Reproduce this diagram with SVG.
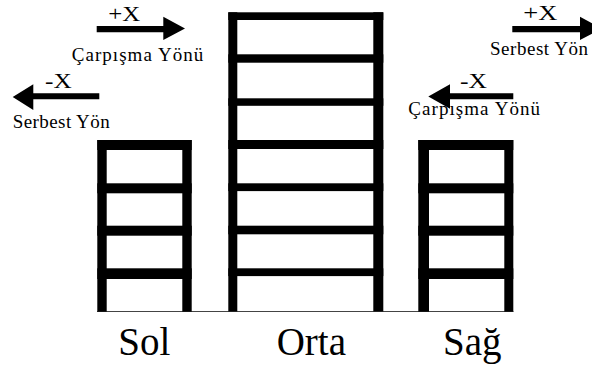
<svg xmlns="http://www.w3.org/2000/svg" width="592" height="371" viewBox="0 0 592 371">
  <style>
    .member { fill: #000; }
    .ground { stroke: #444; stroke-width: 1; fill: none; }
    .arrow { fill: #000; }
    .lbl { font-family: "Liberation Serif", "Times New Roman", serif; fill: #000; }
    .axis { font-size: 21px; }
    .dir { font-size: 19px; }
    .name { font-size: 39px; }
  </style>
  <rect width="592" height="371" fill="#fff"/>

  <!-- ground line -->
  <line class="ground" x1="97" y1="311.5" x2="513.5" y2="311.5"/>

  <!-- left frame: 4 storeys -->
  <g id="sol">
    <rect class="member" x="97.3" y="140" width="9.4" height="171.7"/>
    <rect class="member" x="182.3" y="140" width="9.4" height="171.7"/>
    <rect class="member" x="97.3" y="140" width="94.4" height="10"/>
    <rect class="member" x="97.3" y="183.3" width="94.4" height="10"/>
    <rect class="member" x="97.3" y="225.7" width="94.4" height="10"/>
    <rect class="member" x="97.3" y="268.3" width="94.4" height="10.7"/>
    <text class="lbl name" x="118.3" y="355">Sol</text>
  </g>

  <!-- middle frame: 7 storeys -->
  <g id="orta">
    <rect class="member" x="228.3" y="12.3" width="9" height="299.2"/>
    <rect class="member" x="373.3" y="12.3" width="10" height="299.2"/>
    <rect class="member" x="228.3" y="12.3" width="155" height="7.7"/>
    <rect class="member" x="228.3" y="54.3" width="155" height="8.4"/>
    <rect class="member" x="228.3" y="98.3" width="155" height="7.5"/>
    <rect class="member" x="228.3" y="140" width="155" height="9"/>
    <rect class="member" x="228.3" y="183.3" width="155" height="7.8"/>
    <rect class="member" x="228.3" y="225.7" width="155" height="8.6"/>
    <rect class="member" x="228.3" y="268.3" width="155" height="7.8"/>
    <text class="lbl name" x="276.7" y="355">Orta</text>
  </g>

  <!-- right frame: 4 storeys -->
  <g id="sag">
    <rect class="member" x="418.3" y="140" width="10.7" height="171.7"/>
    <rect class="member" x="504.3" y="140" width="9" height="171.7"/>
    <rect class="member" x="418.3" y="140" width="95" height="10"/>
    <rect class="member" x="418.3" y="183.3" width="95" height="10"/>
    <rect class="member" x="418.3" y="225.7" width="95" height="10"/>
    <rect class="member" x="418.3" y="268.3" width="95" height="10.7"/>
    <text class="lbl name" x="443" y="355">Sağ</text>
  </g>

  <!-- direction arrows with their labels -->
  <g id="arrows">
    <path class="arrow" d="M96.7,26 H163.3 V16.7 L185,28.5 L163.3,40 V32.3 H96.7 Z"/>
    <text class="lbl axis" x="108.3" y="20.7" textLength="32" lengthAdjust="spacingAndGlyphs">+X</text>
    <text class="lbl dir" x="71.7" y="61" textLength="131.6" lengthAdjust="spacing">Çarpışma Yönü</text>

    <path class="arrow" d="M99.3,93.3 H33.3 V84.3 L12.7,97 L33.3,110 V99.3 H99.3 Z"/>
    <text class="lbl axis" x="45" y="87.7" textLength="26.7" lengthAdjust="spacingAndGlyphs">-X</text>
    <text class="lbl dir" x="12.7" y="127.5" textLength="97" lengthAdjust="spacing">Serbest Yön</text>

    <path class="arrow" d="M512.3,26 H580 V16.7 L601.7,28.5 L580,40 V32.3 H512.3 Z"/>
    <text class="lbl axis" x="523.3" y="20" textLength="34" lengthAdjust="spacingAndGlyphs">+X</text>
    <text class="lbl dir" x="490" y="54.5" textLength="98" lengthAdjust="spacing">Serbest Yön</text>

    <path class="arrow" d="M513.3,93.3 H450 V84.3 L428.3,96.5 L450,108.7 V99.3 H513.3 Z"/>
    <text class="lbl axis" x="460" y="87.7" textLength="27" lengthAdjust="spacingAndGlyphs">-X</text>
    <text class="lbl dir" x="408.3" y="115" textLength="131.7" lengthAdjust="spacing">Çarpışma Yönü</text>
  </g>
</svg>
